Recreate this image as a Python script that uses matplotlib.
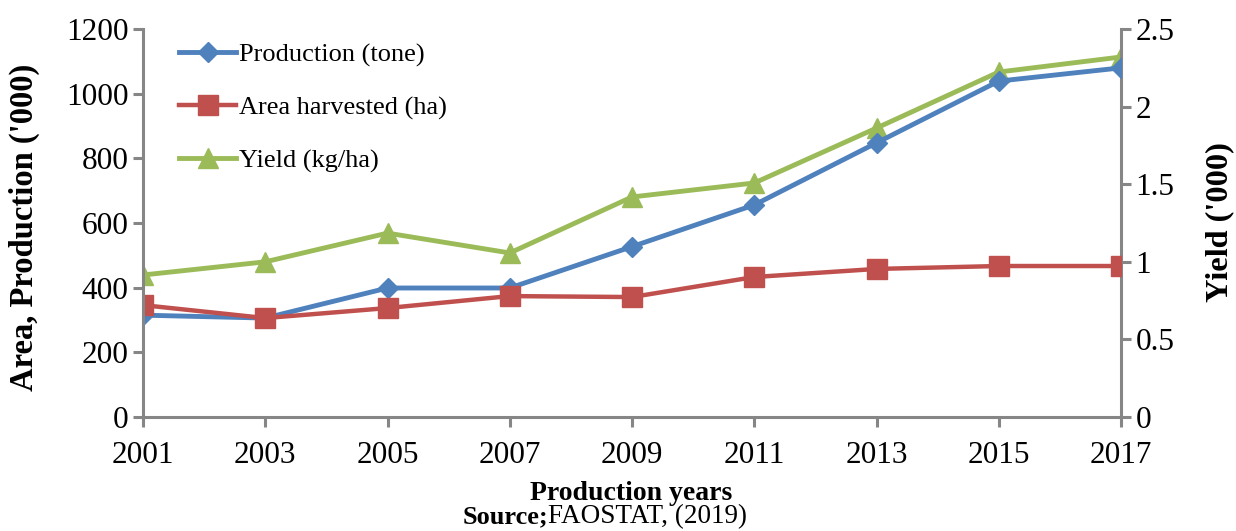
import matplotlib
matplotlib.use("Agg")
from matplotlib import pyplot as plt

years = [2001, 2003, 2005, 2007, 2009, 2011, 2013, 2015, 2017]
production = [315, 306, 399, 399, 527, 656, 848, 1039, 1080]
area = [346, 306, 337, 374, 371, 433, 458, 467, 467]
yield_kg = [0.915, 1.0, 1.185, 1.057, 1.418, 1.508, 1.862, 2.223, 2.32]

plt.rcParams['font.family'] = ['Liberation Serif', 'DejaVu Serif']
blue = '#4F81BD'
red = '#C0504D'
green = '#9BBB59'
grey = '#868686'

fig = plt.figure(figsize=(12.36, 5.31), dpi=100)
ax = fig.add_axes([0.1157, 0.2147, 0.7913, 0.7306])
ax2 = ax.twinx()

l1, = ax.plot(years, production, color=blue, lw=3.5, marker='D', ms=10, label='Production (tone)')
l2, = ax.plot(years, area, color=red, lw=3.2, marker='s', ms=14, label='Area harvested (ha)')
l3, = ax2.plot(years, yield_kg, color=green, lw=3.5, marker='^', ms=15, label='Yield (kg/ha)')
ax.set_zorder(ax2.get_zorder() + 1)
ax.patch.set_visible(False)

ax.set_xlim(2001, 2017)
ax.set_ylim(0, 1200)
ax2.set_ylim(0, 2.5)
ax.set_xticks(years)
ax.set_yticks(range(0, 1201, 200))
ax2.set_yticks([0, 0.5, 1, 1.5, 2, 2.5])
ax2.set_yticklabels(['0', '0.5', '1', '1.5', '2', '2.5'])

for a in (ax, ax2):
    a.spines['top'].set_visible(False)
    for s in ('left', 'right', 'bottom'):
        a.spines[s].set_color(grey)
        a.spines[s].set_linewidth(2.2)
    a.tick_params(colors=grey, width=2.2, length=7, labelsize=22.5, labelcolor='black')
ax.tick_params(axis='x', pad=10)
ax.spines['right'].set_visible(False)
ax2.spines['left'].set_visible(False)
ax2.spines['bottom'].set_visible(False)

ax.set_ylabel("Area, Production ('000)", fontsize=23.5, fontweight='bold')
ax.yaxis.set_label_coords(-0.105, 0.488)
ax2.set_ylabel("Yield ('000)", fontsize=23.3, fontweight='bold', rotation=90)
ax2.yaxis.set_label_coords(1.086, 0.503)

ax.legend(handles=[l1, l2, l3], loc='upper left', bbox_to_anchor=(0.021, 1.005),
          frameon=False, fontsize=19, handlelength=2.15, labelspacing=1.1,
          handletextpad=0.1, borderaxespad=0.2)

fig.text(0.511, 0.058, 'Production years', ha='center', va='baseline',
         fontsize=20, fontweight='bold')
fig.text(0.4434, 0.014, 'Source;', ha='right', va='baseline', fontsize=19, fontweight='bold')
fig.text(0.4434, 0.014, 'FAOSTAT, (2019)', ha='left', va='baseline', fontsize=19.5)

fig.savefig('out.png', dpi=100)
